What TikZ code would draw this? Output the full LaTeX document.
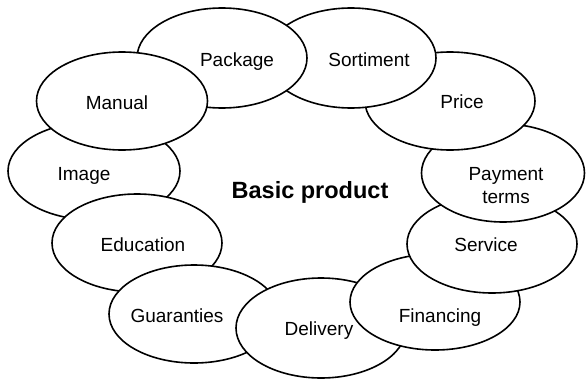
\documentclass[tikz,border=0pt]{standalone}
\usepackage{fontspec}
\setmainfont{Liberation Sans}
\usetikzlibrary{shapes.geometric}
\begin{document}
\begin{tikzpicture}[x=1pt,y=-1pt,
  petal/.style={ellipse,draw=black,fill=white,line width=1.6pt,inner sep=0pt},
  lbl/.style={anchor=base,inner sep=0pt,font=\fontsize{19}{23}\selectfont},
  core/.style={anchor=base,inner sep=0pt,font=\fontsize{23.5}{27}\selectfont\bfseries}]
\useasboundingbox (0,0) rectangle (586,380);
\fill[white] (0,0) rectangle (586,380);
% ellipses, bottom to top
\node[petal,minimum width=172pt,minimum height=98pt] (eImage) at (94,171) {};
\node[petal,minimum width=170pt,minimum height=98pt] (eEducation) at (137,243) {};
\node[petal,minimum width=170pt,minimum height=98pt] (eGuaranties) at (194,314) {};
\node[petal,minimum width=170pt,minimum height=100pt] (eDelivery) at (321,328) {};
\node[petal,minimum width=170pt,minimum height=96pt] (eFinancing) at (435,302) {};
\node[petal,minimum width=170pt,minimum height=98pt] (eService) at (492,244) {};
\node[petal,minimum width=163pt,minimum height=98pt] (ePayment) at (503,173) {};
\node[petal,minimum width=170pt,minimum height=98pt] (ePrice) at (450,101) {};
\node[petal,minimum width=170pt,minimum height=100pt] (eSortiment) at (351,58) {};
\node[petal,minimum width=170pt,minimum height=100pt] (ePackage) at (222,58) {};
\node[petal,minimum width=171pt,minimum height=98pt] (eManual) at (122,101) {};
% labels
\node[lbl] (tImage) at (84,180) {Image};
\node[lbl] (tEducation) at (143,251) {Education};
\node[lbl] (tGuaranties) at (177,322) {Guaranties};
\node[lbl] (tDelivery) at (319,335) {Delivery};
\node[lbl] (tFinancing) at (440,322) {Financing};
\node[lbl] (tService) at (486,251) {Service};
\node[lbl] (tPayment) at (506,180) {Payment};
\node[lbl] (tTerms) at (506,203) {terms};
\node[lbl] (tPrice) at (462,108) {Price};
\node[lbl] (tSortiment) at (369,66) {Sortiment};
\node[lbl] (tPackage) at (237,66) {Package};
\node[lbl] (tManual) at (117,109) {Manual};
\node[core] (tBasic) at (310,198) {Basic product};
\end{tikzpicture}
\end{document}
